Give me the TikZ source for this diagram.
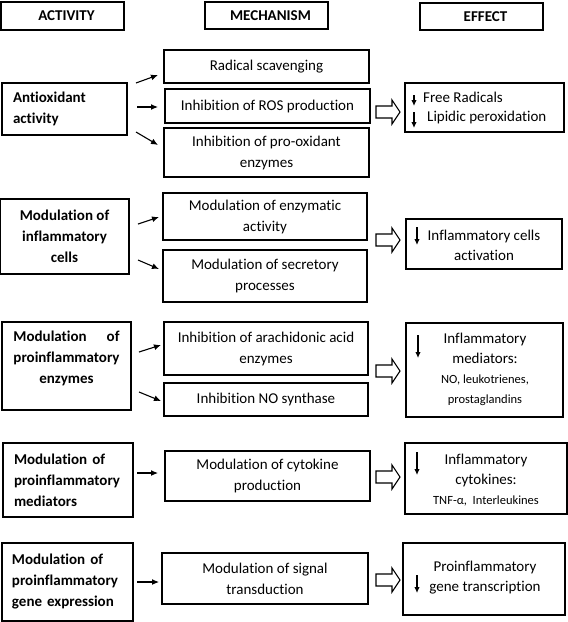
\documentclass[tikz,border=0pt]{standalone}
\usepackage{fontspec}
\setmainfont{Carlito}[Ligatures=NoCommon]
\usepackage{calc}
\usetikzlibrary{arrows.meta}
\begin{document}
\begin{tikzpicture}[x=1pt,y=-1pt,
  box/.style={draw, line width=1.1pt, inner sep=0pt, align=center, font=\fontsize{15}{21}\selectfont},
  hdr/.style={box, line width=2.2pt, font=\bfseries\fontsize{15}{18}\selectfont},
  act/.style={box, font=\bfseries\fontsize{15}{21}\selectfont},
  actl/.style={act, align=left, inner xsep=11pt},
  conn/.style={line width=1.1pt, -{Latex[length=7pt,width=6pt]}},
  down/.style={line width=1.1pt, -{Latex[length=6pt,width=5.5pt]}},
  hollow/.style={draw, line width=1.1pt, fill=white},
  txt/.style={inner sep=0pt, align=center, font=\fontsize{15}{20}\selectfont}]
\useasboundingbox (0,0) rectangle (568,622);

% headers
\node[hdr, minimum width=123, minimum height=28] (h1) at (62.5,16) {\hspace*{8pt}ACTIVITY};
\node[hdr, minimum width=123, minimum height=27] (h2) at (266.5,15.5) {\hspace*{8pt}MECHANISM};
\node[hdr, minimum width=123, minimum height=27] (h3) at (481.5,16.5) {\hspace*{8pt}EFFECT};

% activity boxes
\node[actl, text width=103, minimum height=52] (a1) at (64.5,109) {Antioxidant\\activity};
\node[act, minimum width=129, minimum height=75] (a2) at (64.5,236.5) {Modulation of\\inflammatory\\cells};
\node[act, minimum width=129, minimum height=88] (a3) at (66.5,366) {\makebox[\widthof{proinflammatory}]{Modulation\hfill of}\\proinflammatory\\enzymes\\[-4pt]\mbox{}};
\node[actl, text width=108, minimum height=74] (a4) at (68,480) {Modulation of\\proinflammatory\\mediators};
\node[actl, inner xsep=10pt, text width=111, minimum height=78] (a5) at (67.5,582) {Modulation of\\proinflammatory\\gene expression};

% mechanism boxes
\node[box, minimum width=205, minimum height=33] (m1) at (266.5,66.5) {Radical scavenging};
\node[box, minimum width=205, minimum height=34] (m2) at (267.5,106) {Inhibition of ROS production};
\node[box, minimum width=205, minimum height=49] (m3) at (266.5,152.5) {Inhibition of pro-oxidant\\enzymes};
\node[box, minimum width=204, minimum height=47] (m4) at (265,216.5) {Modulation of enzymatic\\activity};
\node[box, minimum width=204, minimum height=52] (m5) at (265,276) {Modulation of secretory\\processes};
\node[box, minimum width=204, minimum height=53] (m6) at (266,348.5) {Inhibition of arachidonic acid\\enzymes};
\node[box, minimum width=204, minimum height=33] (m7) at (266,399.5) {Inhibition NO synthase};
\node[box, minimum width=205, minimum height=50] (m8) at (267.5,476) {Modulation of cytokine\\production};
\node[box, minimum width=206, minimum height=51] (m9) at (265,578.5) {Modulation of signal\\transduction};

% effect boxes
\node[box, minimum width=159, minimum height=49] (e1) at (484.5,107.5) {};
\node[box, minimum width=156, minimum height=50] (e2) at (484,244) {};
\node[box, minimum width=157, minimum height=94] (e3) at (484.5,370) {};
\node[box, minimum width=162, minimum height=71] (e4) at (486,478.5) {};
\node[box, minimum width=162, minimum height=72] (e5) at (484,579) {};

% effect texts
\node[txt, align=left, anchor=west, font=\fontsize{15}{19}\selectfont] (t1) at (423,107.5) {Free Radicals\\\hspace*{4pt}Lipidic peroxidation};
\node[txt] (t2) at (484,245) {Inflammatory cells\\activation};
\node[txt] (t3) at (485,369) {Inflammatory\\mediators:\\{\fontsize{12.5}{19}\selectfont NO, leukotrienes,}\\{\fontsize{12.5}{19}\selectfont prostaglandins}};
\node[txt] (t4) at (486,480) {Inflammatory\\cytokines:\\{\fontsize{12.5}{19}\selectfont TNF-α,\ \ Interleukines}};
\node[txt] (t5) at (485,578) {Proinflammatory\\gene transcription};

% down arrows in effects
\coordinate (d1a) at (414,95);  \coordinate (d1b) at (414,106);
\coordinate (d2a) at (414,112); \coordinate (d2b) at (414,128);
\coordinate (d3a) at (417,227); \coordinate (d3b) at (417,245);
\coordinate (d4a) at (418,335); \coordinate (d4b) at (418,358);
\coordinate (d5a) at (417,452); \coordinate (d5b) at (417,475);
\coordinate (d6a) at (417,575); \coordinate (d6b) at (417,593);
\foreach \i in {1,...,6} \draw[down] (d\i a) -- (d\i b);

% hollow arrows
\foreach \yy in {112,240,371,477,580}
  \draw[hollow, shift={(376,\yy)}] (0,-6) -- (16,-6) -- (16,-12) -- (24,0) -- (16,12) -- (16,6) -- (0,6) -- cycle;

% connectors activity -> mechanism
\coordinate (s1) at (136,83);  \coordinate (f1) at (158,75);
\coordinate (s2) at (137,107); \coordinate (f2) at (158,107);
\coordinate (s3) at (136,132); \coordinate (f3) at (158,145);
\coordinate (s4) at (138,224); \coordinate (f4) at (159,217);
\coordinate (s5) at (138,260); \coordinate (f5) at (159,269);
\coordinate (s6) at (139,352); \coordinate (f6) at (161,345);
\coordinate (s7) at (139,392); \coordinate (f7) at (161,401);
\coordinate (s8) at (137,473); \coordinate (f8) at (158,473);
\coordinate (s9) at (137,582); \coordinate (f9) at (159,582);
\foreach \i in {1,...,9} \draw[conn] (s\i) -- (f\i);
\end{tikzpicture}
\end{document}
